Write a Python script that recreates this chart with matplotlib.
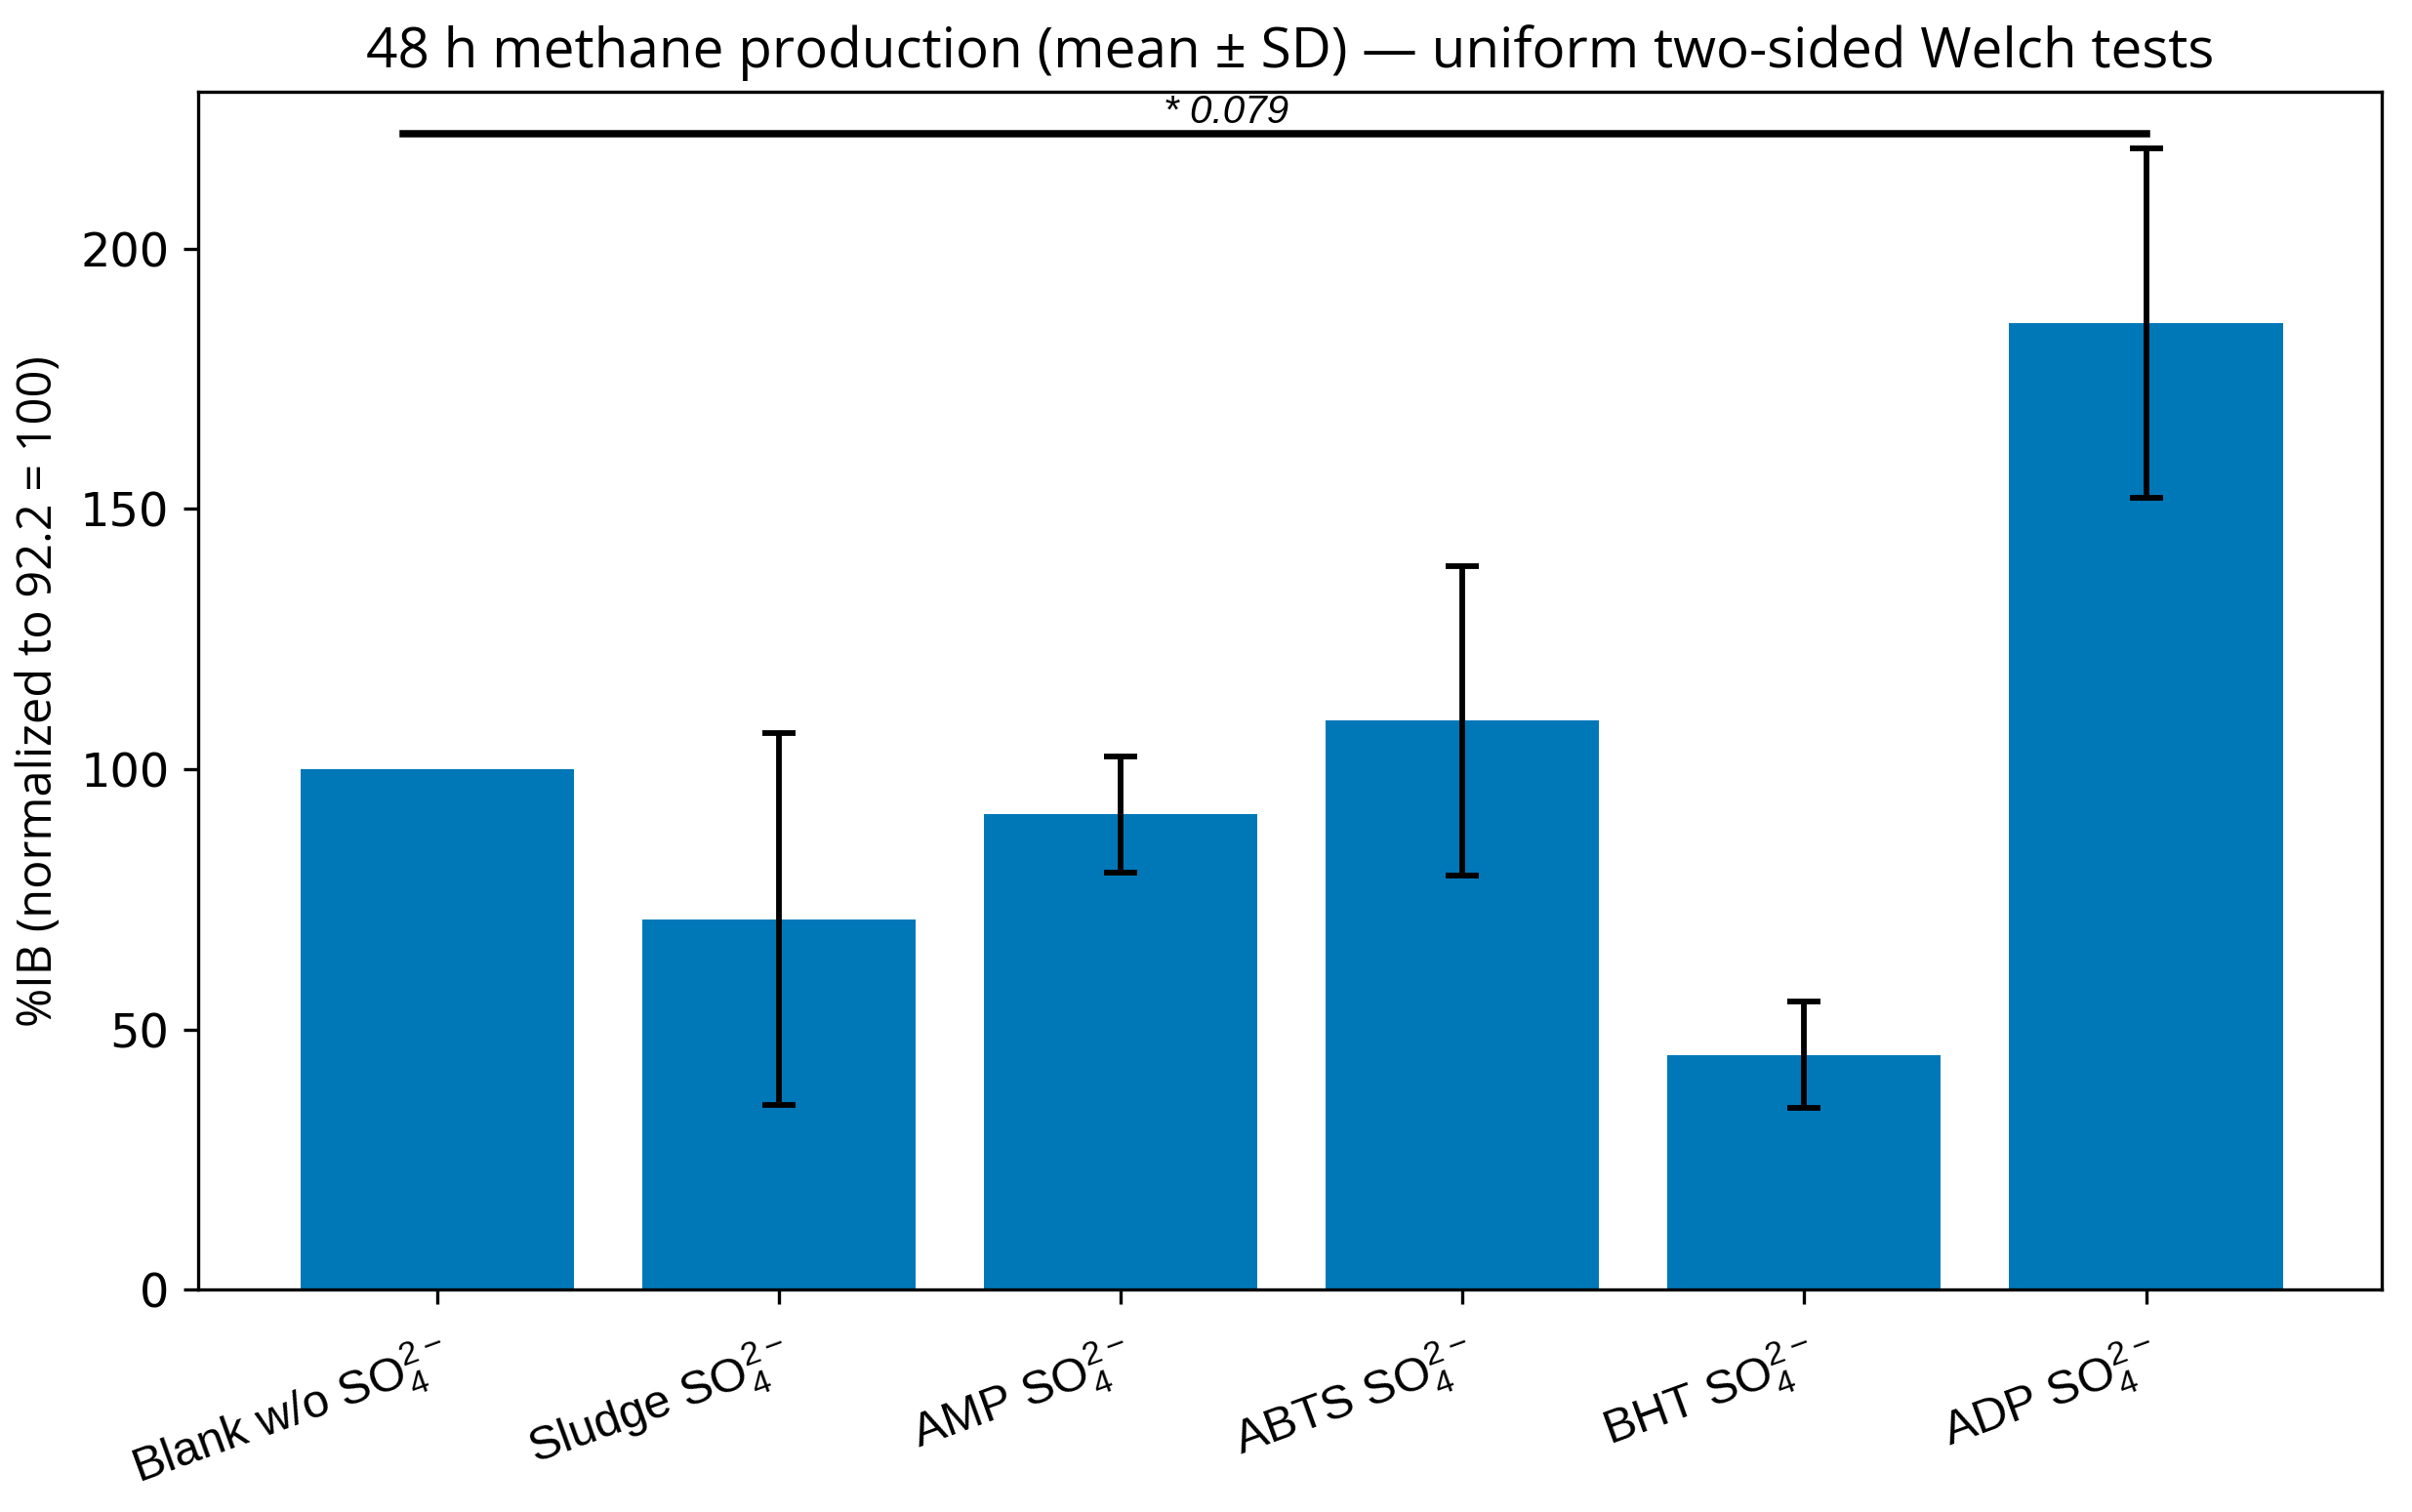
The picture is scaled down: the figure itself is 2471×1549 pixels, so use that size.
import matplotlib
matplotlib.use("Agg")
import matplotlib.pyplot as plt

# data
groups = ["Blank w/o", "Sludge", "AMP", "ABTS", "BHT", "ADP"]
means = [100.0, 71.2, 91.3, 109.3, 45.1, 185.7]
sds = [0.0, 35.7, 11.1, 29.7, 10.2, 33.6]
labels = [g + r" SO$_4^{2-}$" for g in groups]

sig_pair = (0, 5)
sig_text = "* 0.079"

plt.rcParams["mathtext.default"] = "regular"

fig = plt.figure(figsize=(2471 / 300, 1549 / 300), dpi=300)
ax = fig.add_axes([0.082, 0.147, 0.9055, 0.792])

x = list(range(len(groups)))
ax.bar(x, means, width=0.8, color="#0078B8")
err_x = [i for i in x if sds[i] > 0]
ax.errorbar(err_x, [means[i] for i in err_x], yerr=[sds[i] for i in err_x],
            fmt="none", ecolor="black", elinewidth=1.4, capsize=4, capthick=1.4)

# significance line between blank and ADP
y_line = 222
ax.plot([sig_pair[0] - 0.1, sig_pair[1]], [y_line, y_line], color="black", lw=1.8)
ax.text(2.31, y_line + 0.6, sig_text, ha="center", va="bottom", fontsize=9.7,
        style="italic", family="Liberation Sans")

ax.set_xlim(-0.7, 5.69)
ax.set_ylim(0, 230)
ax.set_yticks([0, 50, 100, 150, 200])
ax.set_xticks(x)
ax.set_xticklabels(labels, rotation=20, ha="right", rotation_mode="anchor",
                   family="Liberation Sans", fontsize=11.7)
for t in ax.get_yticklabels():
    t.set_family("DejaVu Sans")
    t.set_fontsize(11.5)
ax.tick_params(axis="x", pad=6)

ax.set_ylabel("%IB (normalized to 92.2 = 100)", family="Open Sans", fontsize=11.7)
ax.set_title("48 h methane production (mean ± SD) — uniform two-sided Welch tests",
             family="Open Sans", fontsize=13.6)

fig.savefig("out.png", dpi=300)
